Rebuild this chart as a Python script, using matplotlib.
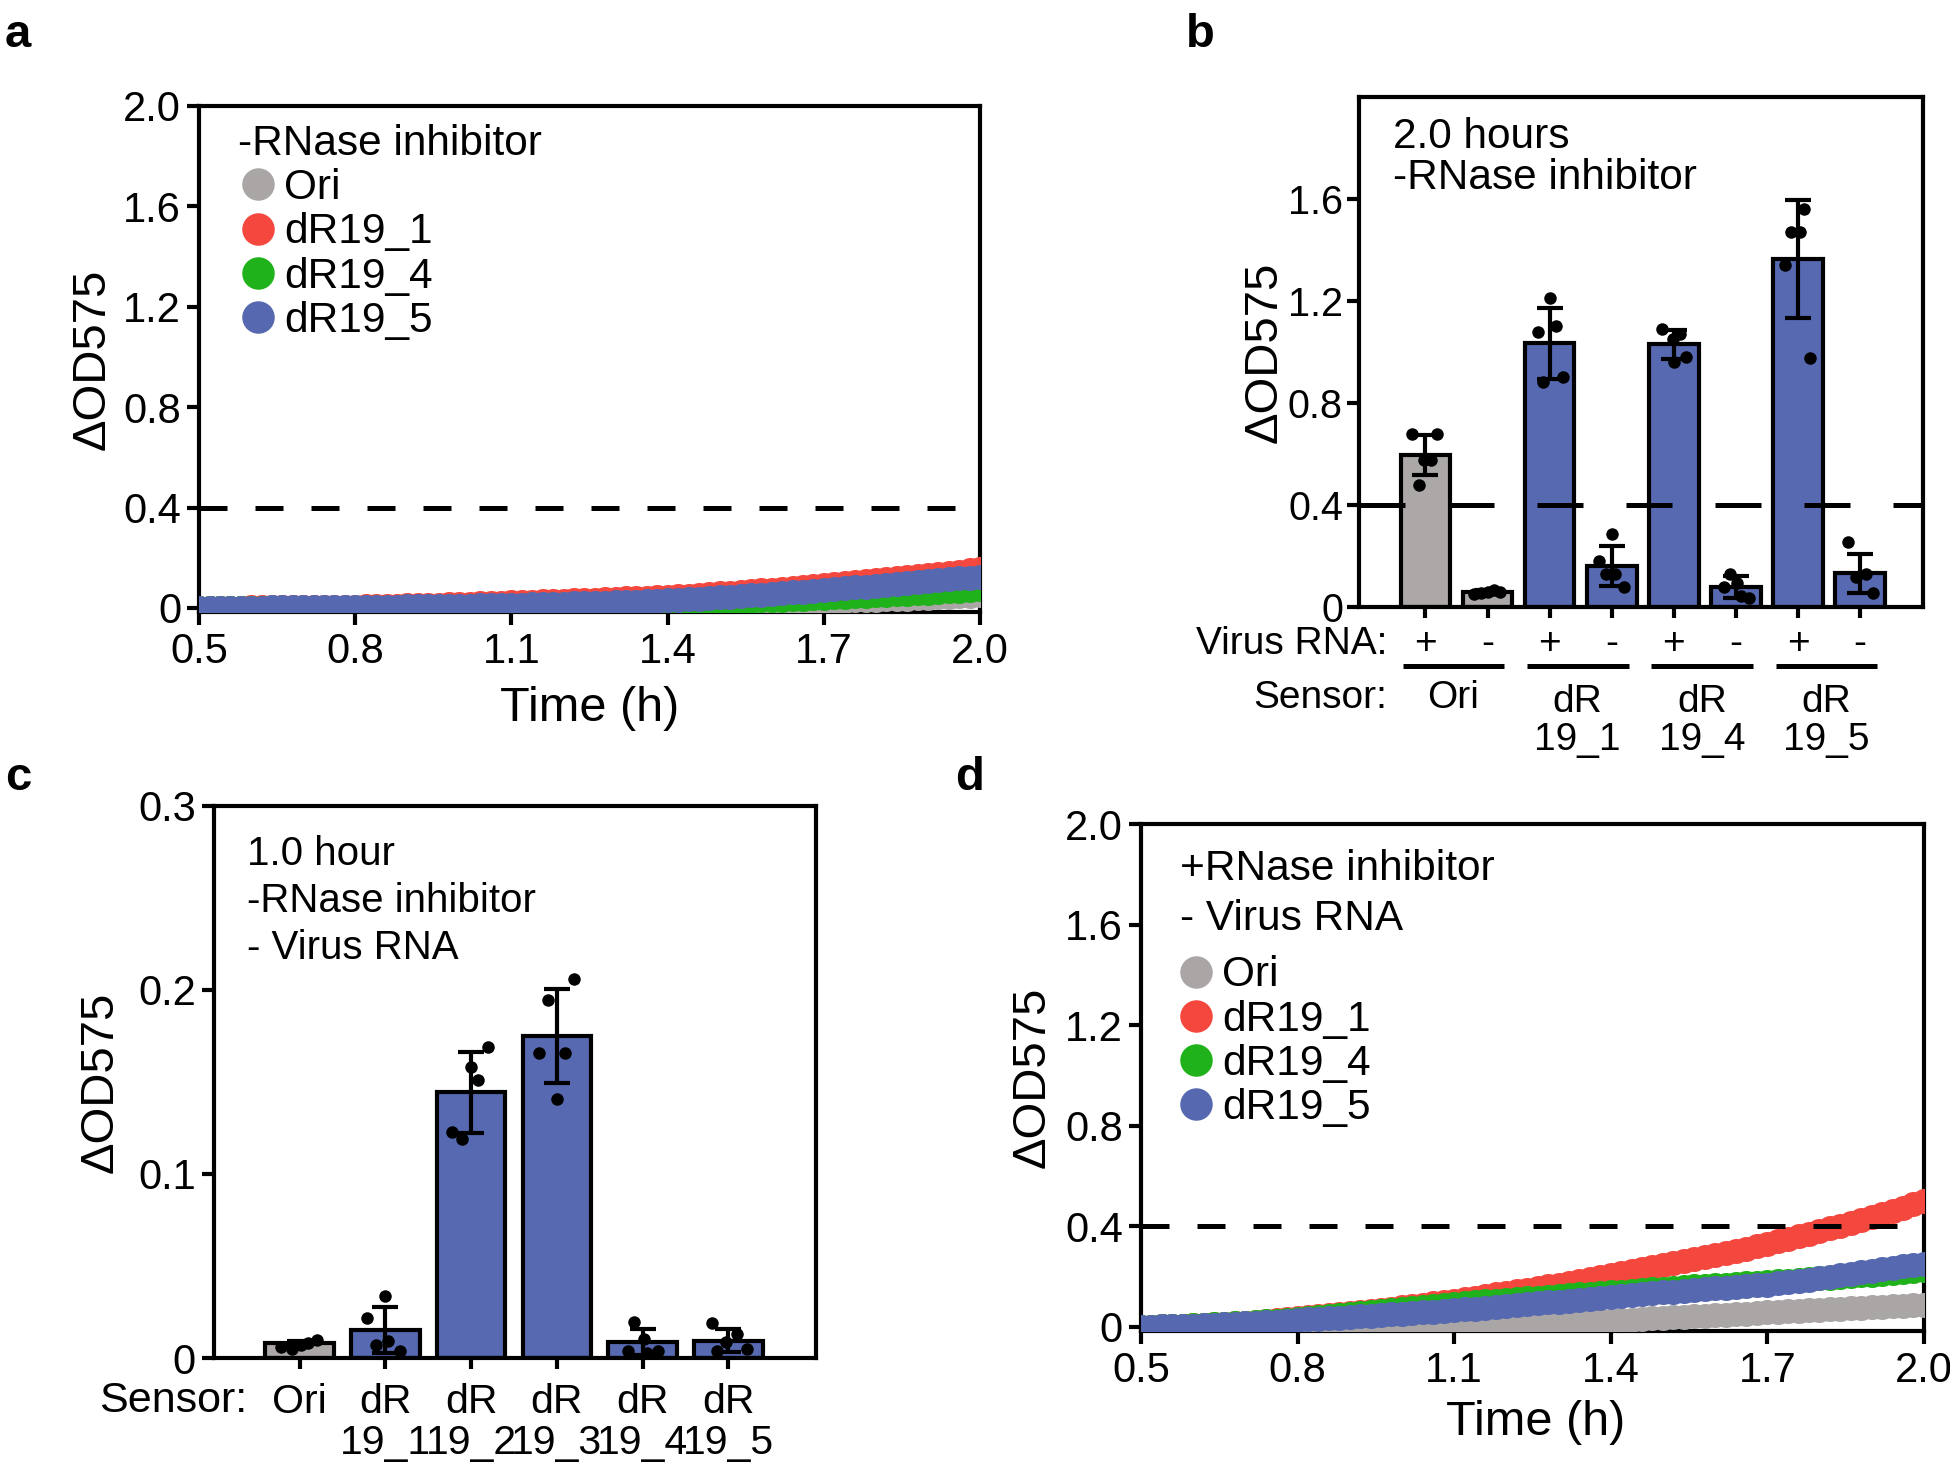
import numpy as np
import matplotlib.pyplot as plt
from matplotlib.transforms import blended_transform_factory

plt.rcParams['font.family'] = ['Liberation Sans', 'DejaVu Sans']

# ---- time course data (panels a and d), one reading every 0.02 h ----
time_h = np.linspace(0.5, 2.0, 76)
sensors = ['Ori', 'dR19_1', 'dR19_4', 'dR19_5']
sensor_colors = {'Ori': '#aaa6a6', 'dR19_1': '#f4483f', 'dR19_4': '#1fb21a', 'dR19_5': '#5669b0'}

a_ori = [0.000, 0.000, 0.000, 0.000, 0.000, 0.000, 0.000, 0.000, 0.000, 0.000, 0.000, 0.000, 0.000, 0.000, 0.000, 0.000,
         0.000, 0.000, 0.000, 0.000, 0.000, 0.000, 0.001, 0.001, 0.001, 0.001, 0.001, 0.001, 0.001, 0.002, 0.002,
         0.002, 0.002, 0.003, 0.003, 0.003, 0.004, 0.004, 0.005, 0.005, 0.006, 0.006, 0.007, 0.008, 0.009, 0.010,
         0.011, 0.012, 0.013, 0.014, 0.015, 0.016, 0.017, 0.018, 0.019, 0.020, 0.021, 0.022, 0.023, 0.024, 0.025,
         0.027, 0.028, 0.030, 0.031, 0.033, 0.034, 0.036, 0.037, 0.039, 0.040, 0.042, 0.044, 0.046, 0.048, 0.050]
a_dr1 = [0.000, 0.000, 0.001, 0.001, 0.001, 0.002, 0.002, 0.002, 0.003, 0.003, 0.003, 0.004, 0.004, 0.004, 0.005, 0.005,
         0.006, 0.007, 0.008, 0.009, 0.010, 0.011, 0.012, 0.013, 0.014, 0.015, 0.016, 0.018, 0.019, 0.020, 0.022,
         0.023, 0.024, 0.026, 0.027, 0.029, 0.030, 0.032, 0.033, 0.035, 0.036, 0.038, 0.040, 0.041, 0.043, 0.045,
         0.047, 0.049, 0.052, 0.055, 0.058, 0.061, 0.064, 0.067, 0.070, 0.073, 0.076, 0.079, 0.082, 0.086, 0.090,
         0.094, 0.098, 0.102, 0.106, 0.110, 0.114, 0.118, 0.122, 0.126, 0.130, 0.135, 0.140, 0.145, 0.150, 0.155]
a_dr4 = [0.000, 0.000, 0.000, 0.000, 0.000, 0.000, 0.000, 0.000, 0.000, 0.000, 0.000, 0.000, 0.000, 0.000, 0.001, 0.001,
         0.001, 0.001, 0.001, 0.001, 0.002, 0.002, 0.002, 0.002, 0.002, 0.003, 0.003, 0.003, 0.003, 0.003, 0.004,
         0.004, 0.005, 0.005, 0.006, 0.007, 0.008, 0.009, 0.010, 0.011, 0.012, 0.013, 0.014, 0.015, 0.017, 0.018,
         0.019, 0.020, 0.022, 0.023, 0.024, 0.026, 0.027, 0.029, 0.030, 0.032, 0.033, 0.035, 0.036, 0.038, 0.040,
         0.042, 0.044, 0.046, 0.048, 0.050, 0.052, 0.054, 0.056, 0.058, 0.061, 0.063, 0.066, 0.069, 0.072, 0.075]
a_dr5 = [0.000, 0.000, 0.000, 0.001, 0.001, 0.001, 0.001, 0.002, 0.002, 0.002, 0.002, 0.002, 0.003, 0.003, 0.003, 0.003,
         0.004, 0.004, 0.005, 0.005, 0.006, 0.006, 0.007, 0.007, 0.008, 0.008, 0.009, 0.010, 0.010, 0.011, 0.012,
         0.013, 0.014, 0.015, 0.016, 0.017, 0.018, 0.019, 0.020, 0.021, 0.023, 0.024, 0.025, 0.027, 0.028, 0.030,
         0.032, 0.034, 0.037, 0.039, 0.042, 0.044, 0.047, 0.050, 0.053, 0.056, 0.059, 0.062, 0.065, 0.068, 0.072,
         0.075, 0.078, 0.082, 0.085, 0.089, 0.092, 0.096, 0.099, 0.103, 0.107, 0.110, 0.114, 0.118, 0.121, 0.125]

d_ori = [0.000, 0.000, -0.001, -0.001, -0.001, -0.002, -0.002, -0.002, -0.003, -0.003, -0.003, -0.004, -0.004, -0.004, -0.005, -0.005,
         -0.005, -0.005, -0.005, -0.005, -0.005, -0.004, -0.004, -0.004, -0.003, -0.003, -0.002, -0.002, -0.001, -0.001, 0.000,
         0.001, 0.002, 0.004, 0.005, 0.007, 0.008, 0.010, 0.012, 0.013, 0.015, 0.017, 0.019, 0.021, 0.023, 0.025,
         0.027, 0.029, 0.031, 0.034, 0.036, 0.038, 0.040, 0.042, 0.044, 0.046, 0.049, 0.051, 0.053, 0.055, 0.058,
         0.060, 0.062, 0.064, 0.066, 0.068, 0.070, 0.072, 0.074, 0.076, 0.078, 0.080, 0.082, 0.084, 0.086, 0.088]
d_dr1 = [0.000, 0.001, 0.002, 0.003, 0.004, 0.006, 0.008, 0.010, 0.012, 0.014, 0.017, 0.020, 0.023, 0.026, 0.030, 0.034,
         0.038, 0.042, 0.046, 0.050, 0.054, 0.058, 0.063, 0.068, 0.073, 0.078, 0.083, 0.088, 0.094, 0.099, 0.105,
         0.111, 0.117, 0.123, 0.129, 0.135, 0.141, 0.147, 0.154, 0.161, 0.168, 0.175, 0.182, 0.189, 0.197, 0.205,
         0.213, 0.221, 0.229, 0.237, 0.245, 0.253, 0.261, 0.269, 0.277, 0.285, 0.293, 0.302, 0.311, 0.320, 0.330,
         0.340, 0.350, 0.360, 0.370, 0.381, 0.392, 0.403, 0.414, 0.425, 0.437, 0.449, 0.461, 0.474, 0.487, 0.500]
d_dr4 = [0.000, 0.001, 0.002, 0.003, 0.004, 0.006, 0.008, 0.010, 0.012, 0.014, 0.016, 0.019, 0.022, 0.025, 0.029, 0.033,
         0.037, 0.041, 0.045, 0.049, 0.053, 0.057, 0.061, 0.065, 0.069, 0.073, 0.077, 0.081, 0.085, 0.089, 0.093,
         0.096, 0.099, 0.102, 0.105, 0.108, 0.111, 0.114, 0.117, 0.120, 0.123, 0.126, 0.129, 0.132, 0.135, 0.137,
         0.140, 0.143, 0.146, 0.149, 0.152, 0.155, 0.158, 0.161, 0.163, 0.166, 0.168, 0.171, 0.173, 0.176, 0.178,
         0.181, 0.184, 0.187, 0.190, 0.193, 0.196, 0.199, 0.202, 0.205, 0.208, 0.211, 0.215, 0.219, 0.223, 0.228]
d_dr5 = [0.000, 0.001, 0.002, 0.003, 0.004, 0.005, 0.006, 0.008, 0.010, 0.012, 0.014, 0.016, 0.018, 0.021, 0.024, 0.028,
         0.030, 0.032, 0.035, 0.037, 0.040, 0.042, 0.045, 0.047, 0.050, 0.052, 0.055, 0.058, 0.061, 0.064, 0.067,
         0.070, 0.073, 0.077, 0.080, 0.084, 0.087, 0.091, 0.094, 0.098, 0.101, 0.105, 0.108, 0.112, 0.116, 0.120,
         0.123, 0.126, 0.130, 0.133, 0.137, 0.140, 0.144, 0.147, 0.150, 0.153, 0.156, 0.159, 0.162, 0.165, 0.168,
         0.173, 0.178, 0.183, 0.188, 0.193, 0.199, 0.205, 0.211, 0.217, 0.223, 0.229, 0.235, 0.241, 0.246, 0.252]

# ---- panel b: 2.0 h endpoint, +/- virus RNA ----
b_sensors = ['Ori', 'dR19_1', 'dR19_4', 'dR19_5']
b_virus = ['+', '-', '+', '-', '+', '-', '+', '-']
b_mean = [0.595, 0.058, 1.035, 0.160, 1.030, 0.077, 1.365, 0.133]
b_sd = [0.078, 0.008, 0.139, 0.079, 0.057, 0.043, 0.232, 0.076]
b_points = [[0.680, 0.680, 0.576, 0.576, 0.479],
            [0.050, 0.055, 0.058, 0.065, 0.060],
            [1.212, 1.080, 1.102, 0.882, 0.902],
            [0.285, 0.180, 0.129, 0.129, 0.077],
            [1.090, 1.070, 1.053, 0.981, 0.961],
            [0.129, 0.077, 0.044, 0.037, 0.095],
            [1.562, 1.472, 1.472, 1.341, 0.977],
            [0.257, 0.116, 0.129, 0.057]]
b_jitter = [[-0.21, 0.19, -0.02, 0.09, -0.10],
            [-0.22, -0.10, 0.00, 0.10, 0.20],
            [0.00, -0.19, 0.10, -0.10, 0.21],
            [0.00, -0.21, -0.09, 0.05, 0.20],
            [-0.19, 0.10, -0.02, 0.20, 0.00],
            [-0.09, -0.19, 0.08, 0.21, 0.02],
            [0.10, -0.12, 0.03, -0.21, 0.20],
            [-0.19, -0.06, 0.10, 0.20]]

# ---- panel c: 1.0 h, no virus RNA ----
c_labels = ['Ori', 'dR\n19_1', 'dR\n19_2', 'dR\n19_3', 'dR\n19_4', 'dR\n19_5']
c_mean = [0.0079, 0.0152, 0.1445, 0.1750, 0.0086, 0.0093]
c_sd = [0.0015, 0.0123, 0.0220, 0.0255, 0.0069, 0.0062]
c_points = [[0.006, 0.005, 0.007, 0.008, 0.010],
            [0.0337, 0.0216, 0.0069, 0.0093, 0.0037],
            [0.169, 0.158, 0.151, 0.123, 0.119],
            [0.206, 0.1946, 0.1656, 0.166, 0.1405],
            [0.0197, 0.0103, 0.0037, 0.0037, 0.0025],
            [0.019, 0.013, 0.0086, 0.005, 0.0037]]
c_jitter = [[-0.22, -0.09, 0.01, 0.10, 0.20],
            [0.00, -0.21, -0.11, 0.03, 0.17],
            [0.20, 0.00, 0.08, -0.22, -0.11],
            [0.20, -0.10, -0.21, 0.09, 0.00],
            [-0.10, 0.01, -0.17, 0.18, 0.05],
            [-0.19, 0.10, -0.03, 0.22, -0.13]]

bar_gray = '#aca8a8'
bar_blue = '#5669b1'
TICK = 30
TXT = 30.5
LW = 3

fig = plt.figure(figsize=(19.5, 14.67), dpi=100)
ax_a = fig.add_axes([0.1021, 0.5825, 0.4005, 0.3453])
ax_b = fig.add_axes([0.6969, 0.5862, 0.2892, 0.3476])
ax_c = fig.add_axes([0.1097, 0.0743, 0.3087, 0.3763])
ax_d = fig.add_axes([0.5851, 0.0924, 0.4015, 0.3459])

for ax in (ax_a, ax_b, ax_c, ax_d):
    for s in ax.spines.values():
        s.set_linewidth(LW)
    ax.tick_params(width=LW, length=9, labelsize=TICK, pad=4)


def time_panel(ax, curves, heads, head_y, leg_anchor):
    for name, vals in zip(sensors, curves):
        ax.plot(time_h, vals, 'o', ms=18, color=sensor_colors[name], mec='none',
                zorder=3, label=name)
    ax.axhline(0.4, color='k', lw=3.6, dashes=(5.6, 5.6), zorder=4)
    ax.set_xlim(0.5, 2.0)
    ax.set_ylim(-0.018, 2.0)
    ax.set_xticks([0.5, 0.8, 1.1, 1.4, 1.7, 2.0])
    ax.set_xticklabels(['0.5', '0.8', '1.1', '1.4', '1.7', '2.0'])
    ax.set_yticks([0, 0.4, 0.8, 1.2, 1.6, 2.0])
    ax.set_yticklabels(['0', '0.4', '0.8', '1.2', '1.6', '2.0'])
    ax.tick_params(axis='x', pad=5)
    ax.set_xlabel('Time (h)', fontsize=35, va='center')
    ax.set_ylabel('ΔOD575', fontsize=34, va='center')
    for txt, y in zip(heads, head_y):
        ax.text(0.05, y, txt, transform=ax.transAxes, fontsize=TXT, va='center', ha='left')
    ax.legend(loc='upper left', bbox_to_anchor=leg_anchor, frameon=False, fontsize=TXT,
              handlelength=0.75, handletextpad=0.25, labelspacing=0.1, borderpad=0,
              borderaxespad=0, markerscale=1.3)


time_panel(ax_a, [a_ori, a_dr1, a_dr4, a_dr5], ['-RNase inhibitor'], [0.925], (0.055, 0.877))
ax_a.xaxis.set_label_coords(0.5, -0.189)
ax_a.yaxis.set_label_coords(-0.136, 0.5)

time_panel(ax_d, [d_ori, d_dr1, d_dr4, d_dr5], ['+RNase inhibitor', '- Virus RNA'],
           [0.912, 0.813], (0.05, 0.741))
ax_d.xaxis.set_label_coords(0.504, -0.18)
ax_d.yaxis.set_label_coords(-0.138, 0.5)

# ---- panel b ----
b_pos = np.arange(len(b_mean))
b_colors = [bar_gray if i < 2 else bar_blue for i in b_pos]
ax_b.bar(b_pos, b_mean, width=0.8, color=b_colors, edgecolor='k', lw=LW, zorder=2)
ax_b.axhline(0.4, color='k', lw=3.6, dashes=(9.2, 8.6), zorder=3)
ax_b.errorbar(b_pos, b_mean, yerr=b_sd, fmt='none', ecolor='k', elinewidth=LW,
              capsize=9.5, capthick=LW, zorder=4)
for i, (vals, offs) in enumerate(zip(b_points, b_jitter)):
    ax_b.plot(i + np.array(offs), vals, 'o', color='k', ms=9, mec='none', zorder=5)
ax_b.set_xlim(-1.07, 8.01)
ax_b.set_ylim(0, 2.0)
ax_b.set_yticks([0, 0.4, 0.8, 1.2, 1.6])
ax_b.set_yticklabels(['0', '0.4', '0.8', '1.2', '1.6'])
ax_b.tick_params(axis='y', labelsize=28.5, pad=2.5)
ax_b.set_xticks(b_pos)
ax_b.set_xticklabels([])
ax_b.tick_params(axis='x', length=8)
ax_b.set_ylabel('ΔOD575', fontsize=34, va='center')
ax_b.yaxis.set_label_coords(-0.168, 0.5)
ax_b.text(0.06, 0.921, '2.0 hours', transform=ax_b.transAxes, fontsize=TXT, va='center')
ax_b.text(0.06, 0.842, '-RNase inhibitor', transform=ax_b.transAxes, fontsize=TXT, va='center')

ROW = 28
tb = blended_transform_factory(ax_b.transData, ax_b.transAxes)
ax_b.text(0.05, -0.072, 'Virus RNA:', transform=ax_b.transAxes, fontsize=ROW,
          ha='right', va='center')
for i, sign in enumerate(b_virus):
    ax_b.text(i, -0.072, sign, transform=tb, fontsize=ROW, ha='center', va='center')
ax_b.text(0.05, -0.178, 'Sensor:', transform=ax_b.transAxes, fontsize=ROW,
          ha='right', va='center')
for g, name in enumerate(b_sensors):
    ax_b.plot([2 * g - 0.36, 2 * g + 1.27], [-0.116, -0.116], transform=tb, color='k',
              lw=3.6, clip_on=False, solid_capstyle='butt')
    if name == 'Ori':
        ax_b.text(2 * g + 0.45, -0.178, name, transform=tb, fontsize=ROW, ha='center', va='center')
    else:
        ax_b.text(2 * g + 0.45, -0.2235, 'dR\n' + name[2:], transform=tb, fontsize=ROW,
                  ha='center', va='center', linespacing=1.1)

# ---- panel c ----
c_pos = np.arange(len(c_mean))
c_colors = [bar_gray] + [bar_blue] * (len(c_mean) - 1)
ax_c.bar(c_pos, c_mean, width=0.8, color=c_colors, edgecolor='k', lw=LW, zorder=2)
ax_c.errorbar(c_pos, c_mean, yerr=c_sd, fmt='none', ecolor='k', elinewidth=LW,
              capsize=9.5, capthick=LW, zorder=4)
for i, (vals, offs) in enumerate(zip(c_points, c_jitter)):
    ax_c.plot(i + np.array(offs), vals, 'o', color='k', ms=9, mec='none', zorder=5)
ax_c.set_xlim(-1.0, 6.02)
ax_c.set_ylim(0, 0.3)
ax_c.set_yticks([0, 0.1, 0.2, 0.3])
ax_c.set_yticklabels(['0', '0.1', '0.2', '0.3'])
ax_c.set_xticks(c_pos)
ax_c.set_xticklabels(c_labels, linespacing=1.1, fontsize=29.5)
ax_c.tick_params(axis='x', length=8, pad=10)
ax_c.set_ylabel('ΔOD575', fontsize=34, va='center')
ax_c.yaxis.set_label_coords(-0.189, 0.5)
for txt, y in zip(['1.0 hour', '-RNase inhibitor', '- Virus RNA'], [0.913, 0.828, 0.742]):
    ax_c.text(0.055, y, txt, transform=ax_c.transAxes, fontsize=29, va='center')
ax_c.text(0.055, -0.078, 'Sensor:', transform=ax_c.transAxes, fontsize=31,
          ha='right', va='center')

# panel letters
for letter, x, y in [('a', 5, 47), ('b', 1186, 47), ('c', 5, 790), ('d', 955, 790)]:
    fig.text(x / 1950, 1 - y / 1467, letter, fontsize=34, fontweight='bold', va='baseline')

fig.savefig('out.png', dpi=100)
